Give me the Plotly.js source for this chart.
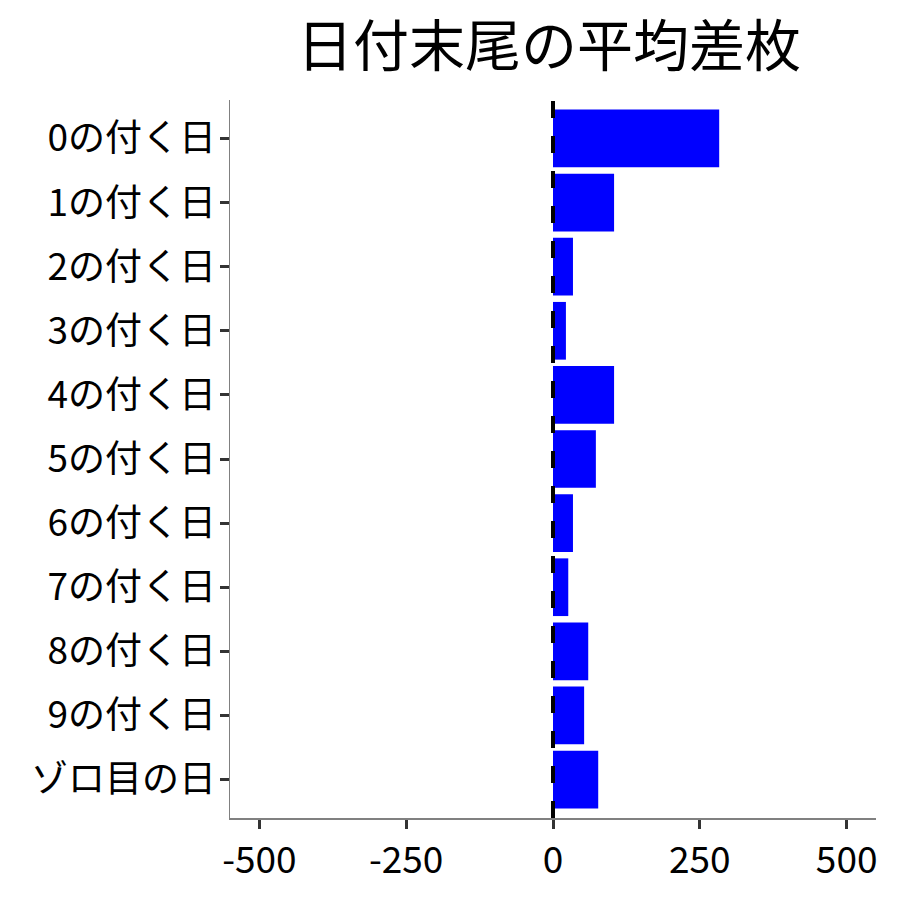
<!DOCTYPE html>
<html>
<head>
<meta charset="utf-8">
<script src="https://cdn.plot.ly/plotly-3.0.1.min.js"></script>
<style>
  html, body { margin: 0; padding: 0; background: #fff; }
  #chart { width: 900px; height: 900px; }
</style>
</head>
<body>
<div id="chart"></div>
<script>
// average difference per date ending
const dayLabels = ['0の付く日', '1の付く日', '2の付く日', '3の付く日', '4の付く日',
                   '5の付く日', '6の付く日', '7の付く日', '8の付く日', '9の付く日', 'ゾロ目の日'];
const avgDiff = [283, 104, 34, 22, 104, 73, 34, 26, 60, 53, 77];
const xTicks = [-500, -250, 0, 250, 500];
const xTickText = ['-500', '-250', '0', '250', '500'];

const fontFamily = '"Noto Sans CJK JP", "Noto Sans", sans-serif';

const trace = {
    type: 'bar',
    orientation: 'h',
    x: avgDiff,
    y: dayLabels,
    width: 0.9,
    marker: { color: '#0000FF', line: { width: 0 } },
    hoverinfo: 'x+y'
};

const layout = {
    width: 900,
    height: 900,
    paper_bgcolor: '#ffffff',
    plot_bgcolor: '#ffffff',
    font: { family: fontFamily, color: '#000000', size: 37 },
    margin: { l: 230, r: 24, t: 100, b: 82 },
    showlegend: false,
    title: {
        text: '日付末尾の平均差枚',
        font: { family: fontFamily, size: 56, color: '#000000' },
        x: 0.61,
        xanchor: 'center',
        y: 0.949,
        yanchor: 'middle'
    },
    xaxis: {
        range: [-550, 550],
        tickvals: xTicks,
        ticktext: xTickText,
        showgrid: false,
        zeroline: false,
        showline: true,
        linecolor: '#808080',
        linewidth: 1.5,
        ticks: 'outside',
        ticklen: 9,
        tickwidth: 3,
        tickcolor: '#333333',
        ticklabelstandoff: 0,
        tickfont: { family: fontFamily, size: 37, color: '#000000' }
    },
    yaxis: {
        type: 'category',
        range: [10.6, -0.6],
        showgrid: false,
        zeroline: false,
        showline: true,
        linecolor: '#808080',
        linewidth: 1.5,
        ticks: 'outside',
        ticklen: 9,
        tickwidth: 3,
        tickcolor: '#333333',
        ticklabelstandoff: -4,
        tickfont: { family: fontFamily, size: 37, color: '#000000' }
    },
    shapes: [{
        type: 'line',
        xref: 'x',
        yref: 'paper',
        x0: 0, x1: 0,
        y0: 0, y1: 1,
        layer: 'above',
        line: { color: '#000000', width: 4, dash: '17px,18px' }
    }]
};

Plotly.newPlot('chart', [trace], layout, { displayModeBar: false, staticPlot: true });
</script>
</body>
</html>
